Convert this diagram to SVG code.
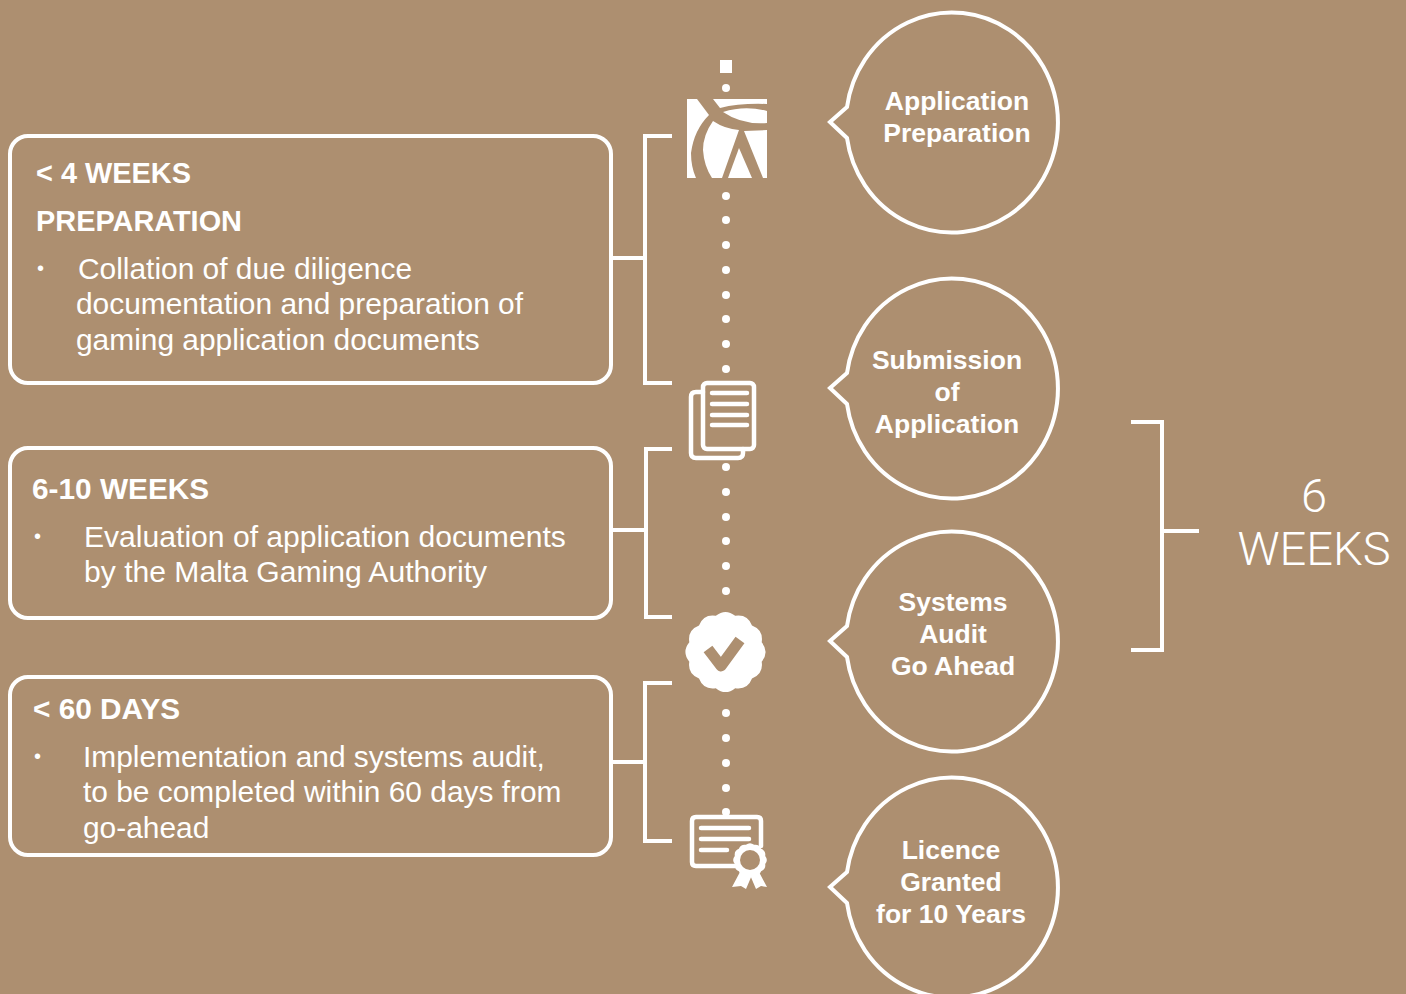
<svg xmlns="http://www.w3.org/2000/svg" width="1406" height="994" viewBox="0 0 1406 994">
<style>
.l{fill:none;stroke:#fff;stroke-width:4;stroke-linejoin:miter}
.t{font-family:"Liberation Sans",Arial,sans-serif;fill:#fff;font-size:29.9px}
.u{font-size:30.1px}
.b{font-weight:bold;font-size:28.9px}
.h{font-size:29.8px}
.d{font-size:20px}
.c{font-family:"Liberation Sans",Arial,sans-serif;fill:#fff;font-size:26.5px;font-weight:bold;text-anchor:middle}
.w{font-family:Roboto,"Liberation Sans",sans-serif;font-weight:300;fill:#fff;font-size:47px;text-anchor:middle}
.i{fill:none;stroke:#fff;stroke-width:4.5;stroke-linecap:round;stroke-linejoin:round}
.f{fill:#fff}
</style>
<defs>
<path id="badge" class="f" d="M36.2 9.7Q38.1 22 26.5 26.5Q22 38.1 9.7 36.2Q0 44 -9.7 36.2Q-22 38.1 -26.5 26.5Q-38.1 22 -36.2 9.7Q-44 0 -36.2 -9.7Q-38.1 -22 -26.5 -26.5Q-22 -38.1 -9.7 -36.2Q0 -44 9.7 -36.2Q22 -38.1 26.5 -26.5Q38.1 -22 36.2 -9.7Q44 0 36.2 9.7Z"/>
</defs>
<rect width="1406" height="994" fill="#ad8f70"/>
<g id="connectors">
<g class="f">
<rect x="720" y="60" width="12" height="13"/>
<circle cx="726" cy="88" r="4"/>
<circle cx="726" cy="196" r="4"/><circle cx="726" cy="220" r="4"/><circle cx="726" cy="245" r="4"/><circle cx="726" cy="270" r="4"/><circle cx="726" cy="295" r="4"/><circle cx="726" cy="319" r="4"/><circle cx="726" cy="344" r="4"/><circle cx="726" cy="369" r="4"/>
<circle cx="726" cy="467" r="4"/><circle cx="726" cy="492" r="4"/><circle cx="726" cy="517" r="4"/><circle cx="726" cy="541" r="4"/><circle cx="726" cy="566" r="4"/><circle cx="726" cy="591" r="4"/>
<circle cx="726" cy="713" r="4"/><circle cx="726" cy="738" r="4"/><circle cx="726" cy="763" r="4"/><circle cx="726" cy="788" r="4"/><circle cx="726" cy="812" r="4"/>
</g>
<path class="l" d="M672 136H645V383H672M611 258H645"/>
<path class="l" d="M672 449H646V617H672M611 530H646"/>
<path class="l" d="M672 683H645V841H672M611 762H645"/>
<path class="l" d="M1131 422H1162V650H1131M1162 531H1199"/>
</g>
<g id="box-preparation">
<rect class="l" x="10" y="136" width="601" height="247" rx="18"/>
<text class="t b" x="36" y="183">&lt; 4 WEEKS</text>
<text class="t b" x="36" y="231">PREPARATION</text>
<text class="t d" x="37" y="275">•</text>
<text class="t" x="78" y="279">Collation of due diligence</text>
<text class="t" x="76" y="314">documentation and preparation of</text>
<text class="t" x="76" y="350">gaming application documents</text>
</g>
<g id="box-evaluation">
<rect class="l" x="10" y="448" width="601" height="170" rx="18"/>
<text class="t b h" x="32" y="499">6-10 WEEKS</text>
<text class="t d" x="34" y="543">•</text>
<text class="t u" x="84" y="547">Evaluation of application documents</text>
<text class="t u" x="84" y="582">by the Malta Gaming Authority</text>
</g>
<g id="box-implementation">
<rect class="l" x="10" y="677" width="601" height="178" rx="18"/>
<text class="t b h" x="33" y="719">&lt; 60 DAYS</text>
<text class="t d" x="34" y="763">•</text>
<text class="t" x="83" y="767">Implementation and systems audit,</text>
<text class="t" x="83" y="802">to be completed within 60 days from</text>
<text class="t" x="83" y="838">go-ahead</text>
</g>
<g id="icon-logo">
<path class="f" d="M687 99H697L709 115Q694 130 691 153Q691 167 696 178H687Z"/>
<path class="f" d="M713 99H767V104Q740 103 720 108Z"/>
<path class="f" d="M723 112Q745 105 767 111V123Q742 125 723 112Z"/>
<path class="f" d="M713 121Q703 135 703 150Q704 166 712 178H722L739 130Q725 129 713 121Z"/>
<path class="f" d="M744 131L767 130V178H763Z"/>
<path class="f" d="M739 148L752 178H728Z"/>
</g>
<g id="icon-documents">
<rect class="i" x="703" y="383" width="51" height="66" rx="4"/>
<path class="i" d="M703 392H696Q691 392 691 397V453Q691 458 696 458H738Q743 458 743 453V449"/>
<path class="i" d="M712 393H747M712 404H747M712 415H747M712 425H747"/>
</g>
<g id="icon-check">
<use href="#badge" transform="translate(725.5 652)"/>
<path d="M708 649L721 666L740 640" fill="none" stroke="#ad8f70" stroke-width="11" stroke-linejoin="round"/>
</g>
<g id="icon-certificate">
<path class="i" d="M735 866H696Q692 866 692 862V821Q692 817 696 817H757Q761 817 761 821V846"/>
<path class="i" d="M701 828H749M701 839H749M701 850H727"/>
<use href="#badge" transform="translate(750 860) scale(.42)"/>
<circle cx="750" cy="860" r="10" fill="#ad8f70"/>
<path class="f" d="M740 872L732 887L741 886L746 889L752 875Z"/>
<path class="f" d="M750 875L756 889L761 886L767 887L759 872Z"/>
</g>
<g id="node-application-preparation">
<path class="l" d="M830 122L847 107A106 110 0 1 1 847 138Z"/>
<text class="c" x="957" y="110">Application</text>
<text class="c" x="957" y="142">Preparation</text>
</g>
<g id="node-submission">
<path class="l" d="M830 388L847 373A106 110 0 1 1 847 404Z"/>
<text class="c" x="947" y="369">Submission</text>
<text class="c" x="947" y="401">of</text>
<text class="c" x="947" y="433">Application</text>
</g>
<g id="node-systems-audit">
<path class="l" d="M830 641L847 626A106 110 0 1 1 847 657Z"/>
<text class="c" x="953" y="611">Systems</text>
<text class="c" x="953" y="643">Audit</text>
<text class="c" x="953" y="675">Go Ahead</text>
</g>
<g id="node-licence">
<path class="l" d="M830 887L847 872A106 110 0 1 1 847 903Z"/>
<text class="c" x="951" y="859">Licence</text>
<text class="c" x="951" y="891">Granted</text>
<text class="c" x="951" y="923">for 10 Years</text>
</g>
<g id="label-6-weeks">
<text class="w" x="1314" y="512">6</text>
<text class="w" x="1314" y="565">WEEKS</text>
</g>
</svg>
